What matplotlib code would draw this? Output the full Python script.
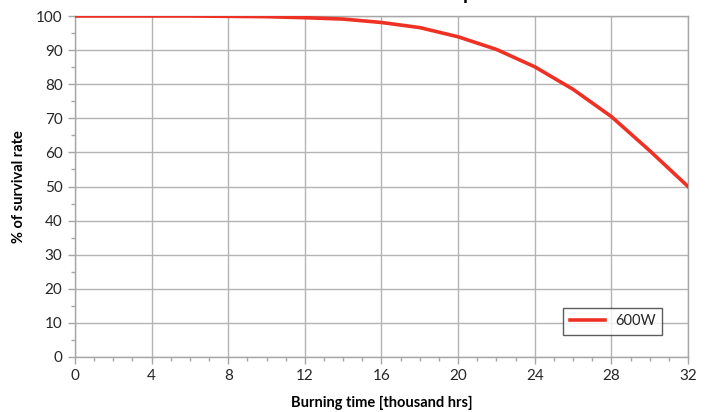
from matplotlib import pyplot as plt
from matplotlib.ticker import MultipleLocator

plt.rcParams['font.family'] = ['Lato', 'DejaVu Sans']

# burning time (thousand hrs) and % of survival rate
horas = [0, 2, 4, 6, 8, 10, 12, 14, 16, 18, 20, 22, 24, 26, 28, 30, 32]
superv = [100, 100, 100, 100, 99.9, 99.8, 99.5, 99.1, 98.1, 96.6, 93.9,
          90.2, 85.1, 78.5, 70.5, 60.5, 50]
serie = "600W"

fig = plt.figure(figsize=(7.14, 4.12), dpi=100)
ax = fig.add_axes([75/714, 1 - 357/412, (688 - 75)/714, (357 - 16)/412])

ax.plot(horas, superv, color="#ee3124", linewidth=2.6, label=serie,
        solid_joinstyle='round', zorder=3)

ax.set_xlim(0, 32)
ax.set_ylim(0, 100)
ax.xaxis.set_major_locator(MultipleLocator(4))
ax.xaxis.set_minor_locator(MultipleLocator(1))
ax.yaxis.set_major_locator(MultipleLocator(10))
ax.yaxis.set_minor_locator(MultipleLocator(5))

ax.grid(which='major', color="#b3b3b3", linewidth=1.0)
for s in ax.spines.values():
    s.set_color("#a6a6a6")
    s.set_linewidth(1.0)

ax.tick_params(which='major', length=5, width=1, color="#a6a6a6",
               labelsize=11, labelcolor="#262626", pad=4)
ax.tick_params(which='minor', length=3, width=1, color="#a6a6a6")

ax.set_xlabel("Burning time [thousand hrs]", fontsize=10.5, fontweight='bold',
              labelpad=9)
ax.set_ylabel("% of survival rate", fontsize=10.5, fontweight='bold',
              labelpad=7)

leg = ax.legend(loc='lower right', bbox_to_anchor=(0.9576, 0.0645),
                borderaxespad=0, fontsize=10.5,
                frameon=True, fancybox=False, handlelength=2.4,
                borderpad=0.45, handletextpad=0.7)
leg.get_frame().set_edgecolor("#333333")
leg.get_frame().set_linewidth(1.0)
leg.get_texts()[0].set_color("#262626")

# titulo cortado arriba: solo se ve el trazo de la "p"
fig.text(468/714, 1.0, "p", ha='center', va='baseline', fontsize=14,
         fontweight='bold')

plt.savefig("out.png", dpi=100)
